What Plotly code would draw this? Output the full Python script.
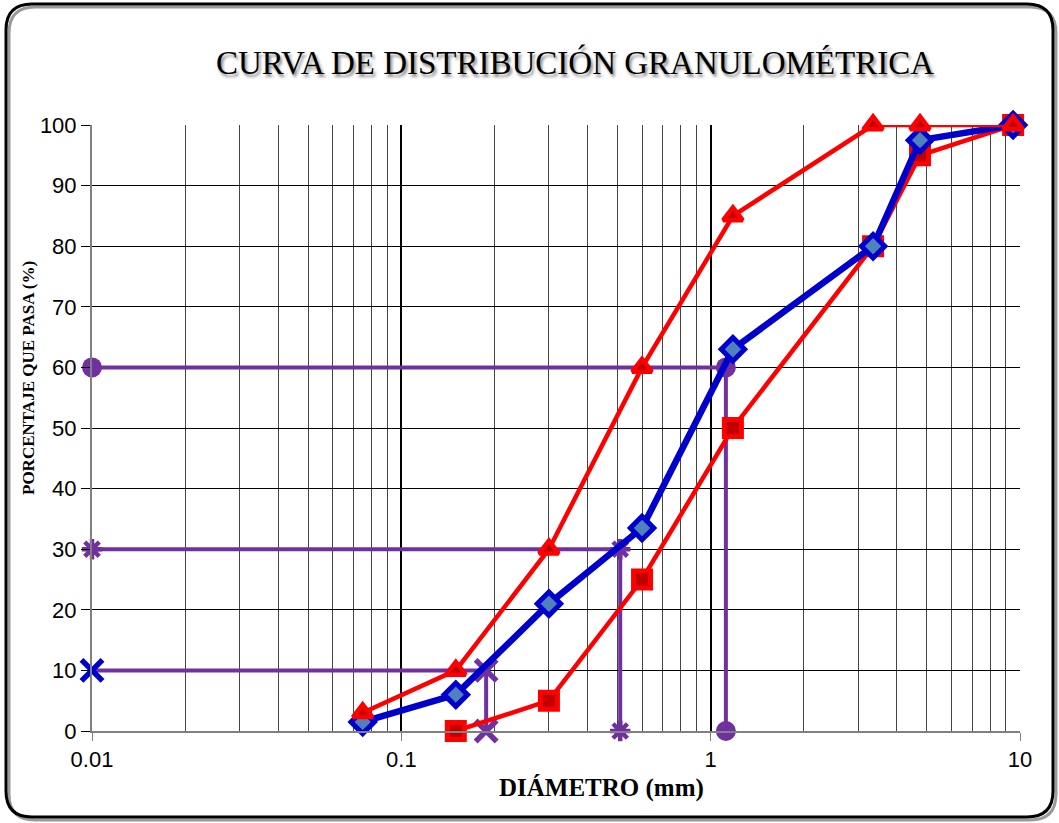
import plotly.graph_objects as go

# ---- data ----
sieve_mm = [0.075, 0.15, 0.3, 0.6, 1.18, 3.35, 4.75, 9.5]
muestra = [1.5, 6, 21, 33.5, 63, 80, 97.5, 100]
lim_sup = [3, 10, 30, 60, 85, 100, 100, 100]
sieve_inf = [0.15, 0.3, 0.6, 1.18, 3.35, 4.75, 9.5]
lim_inf = [0, 5, 25, 50, 80, 95, 100]

d_min = 0.01
d10, d30, d60 = 0.188, 0.51, 1.12
p10, p30, p60 = 10, 30, 60

W, H = 1059, 823
ML, MR, MT, MB = 92, 39, 125, 92
PW, PH = W - ML - MR, H - MT - MB

PURPLE = "#7030A0"
fig = go.Figure()

def dline(d, p, sym, size, lw, left_color=PURPLE, open_=False):
    xs = [d_min, d, d]
    ys = [p, p, 0]
    colors = [left_color, PURPLE, PURPLE]
    marker = dict(symbol=sym, size=size, color=colors)
    if open_:
        marker["line"] = dict(width=lw, color=colors)
    fig.add_trace(go.Scatter(x=xs, y=ys, mode="lines+markers",
                             line=dict(color=PURPLE, width=4),
                             marker=marker, cliponaxis=False, showlegend=False))

dline(d60, p60, "circle", 20, 0)
dline(d30, p30, "asterisk-open", 17, 4.5, open_=True)
dline(d10, p10, "x-thin-open", 21, 5.5, left_color="#0000CC", open_=True)

fig.add_trace(go.Scatter(x=sieve_inf, y=lim_inf, mode="lines+markers",
                         line=dict(color="#FF0000", width=4.5),
                         marker=dict(symbol="square", size=17, color="#C00000",
                                     line=dict(color="#FF0000", width=5)),
                         cliponaxis=False, showlegend=False))
fig.add_trace(go.Scatter(x=sieve_mm, y=muestra, mode="lines+markers",
                         line=dict(color="#0000CC", width=6.5),
                         marker=dict(symbol="diamond", size=18, color="#4F81BD",
                                     line=dict(color="#0000CC", width=5)),
                         cliponaxis=False, showlegend=False))
fig.add_trace(go.Scatter(x=sieve_mm, y=lim_sup, mode="lines+markers",
                         line=dict(color="#FF0000", width=4.5),
                         marker=dict(symbol="triangle-up", size=17, color="#C00000",
                                     line=dict(color="#FF0000", width=4.5)),
                         cliponaxis=False, showlegend=False))

# pixel -> paper helpers
def px(xp):
    return (xp - ML) / PW
def py(yp):
    return (H - MB - yp) / PH

def rounded(x0, y0, x1, y1, r):
    return (f"M {px(x0 + r)} {py(y0)} L {px(x1 - r)} {py(y0)} "
            f"Q {px(x1)} {py(y0)} {px(x1)} {py(y0 + r)} "
            f"L {px(x1)} {py(y1 - r)} Q {px(x1)} {py(y1)} {px(x1 - r)} {py(y1)} "
            f"L {px(x0 + r)} {py(y1)} Q {px(x0)} {py(y1)} {px(x0)} {py(y1 - r)} "
            f"L {px(x0)} {py(y0 + r)} Q {px(x0)} {py(y0)} {px(x0 + r)} {py(y0)} Z")

fig.add_shape(type="path", xref="paper", yref="paper",
              path=rounded(9, 7, 1056, 820, 26),
              line=dict(color="#9a9a9a", width=3), layer="below")
fig.add_shape(type="path", xref="paper", yref="paper",
              path=rounded(6, 4, 1053, 817, 26),
              line=dict(color="black", width=3), layer="below")

# axis titles as annotations (offset like the original)
fig.add_annotation(text="<b>DIÁMETRO (mm)</b>", xref="paper", yref="paper",
                   x=px(601), y=py(788), xanchor="center", yanchor="middle",
                   showarrow=False, font=dict(family="Liberation Serif", size=25))
fig.add_annotation(text="<b>PORCENTAJE QUE PASA (%)</b>", xref="paper", yref="paper",
                   x=px(28), y=py(378), xanchor="center", yanchor="middle",
                   textangle=-90, showarrow=False,
                   font=dict(family="Liberation Serif", size=17))

fig.update_layout(
    width=W, height=H,
    margin=dict(l=ML, r=MR, t=MT, b=MB),
    paper_bgcolor="white", plot_bgcolor="white",
    title=dict(text="CURVA DE DISTRIBUCIÓN GRANULOMÉTRICA",
               x=575 / W, xanchor="center", y=1 - 62 / H, yanchor="middle",
               font=dict(family="Liberation Serif", size=33, color="black",
                         shadow="2px 3px 3px #888888")),
    font=dict(family="Liberation Sans", color="black"),
)
fig.update_xaxes(type="log", range=[-2, 1], dtick=1,
                 tickvals=[0.01, 0.1, 1, 10], ticktext=["0.01", "0.1", "1", "10"],
                 showgrid=True, gridcolor="black", gridwidth=1.5,
                 minor=dict(dtick="D1", showgrid=True, gridcolor="#444444", gridwidth=1,
                            ticks=""),
                 showline=True, linecolor="#808080", linewidth=2,
                 ticks="outside", ticklen=8, tickcolor="#808080",
                 tickfont=dict(size=22, family="Liberation Sans"),
                 zeroline=False, mirror=False)
fig.update_yaxes(range=[0, 100], dtick=10,
                 showgrid=True, gridcolor="black", gridwidth=1,
                 showline=True, linecolor="#808080", linewidth=2,
                 ticks="outside", ticklen=9, tickcolor="black",
                 tickfont=dict(size=22, family="Liberation Sans"),
                 zeroline=False)

fig.write_html("out.html", config={"displayModeBar": False},
               post_script="document.body.style.margin='0px';document.body.style.overflow='hidden';")
